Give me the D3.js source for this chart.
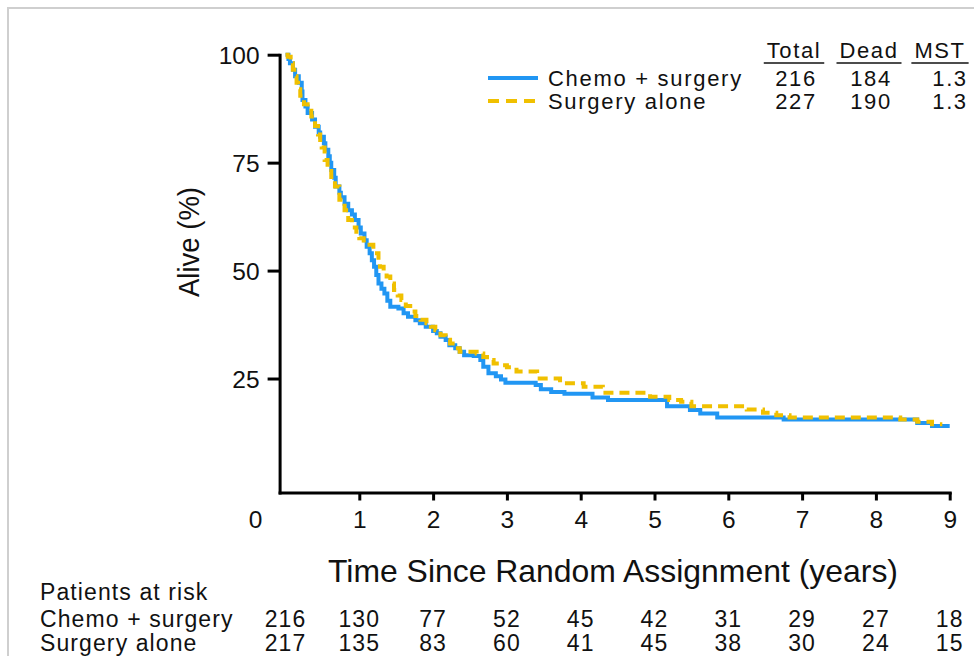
<!DOCTYPE html>
<html>
<head>
<meta charset="utf-8">
<script src="https://cdn.jsdelivr.net/npm/d3@7"></script>
<style>
  html, body { margin: 0; padding: 0; background: #fff; }
  svg { display: block; }
  text { font-family: "Liberation Sans", Arial, Helvetica, sans-serif; fill: #111; }
</style>
</head>
<body>
<svg id="chart" width="974" height="656"></svg>
<script>
// Kaplan–Meier survival steps: [years, % alive]
const chemoCurve = [
  [0,100],[0.04,99],[0.06,98],[0.1,96.5],[0.13,95],[0.18,93.5],[0.22,91.5],[0.23,89.5],
  [0.27,88],[0.3,86.5],[0.36,85],[0.4,83.3],[0.45,82],[0.47,81],[0.52,79.5],[0.54,78],
  [0.58,76.5],[0.6,75],[0.62,73.3],[0.66,71.5],[0.68,69.5],[0.73,68],[0.75,67],[0.8,65.5],
  [0.85,64],[0.9,63],[0.94,61.7],[0.99,60],[1.02,58.6],[1.07,57],[1.1,55.5],[1.14,54],
  [1.17,52.4],[1.2,50.9],[1.23,49],[1.26,47],[1.3,45.8],[1.34,44.7],[1.38,43],[1.42,41.6],
  [1.53,41.2],[1.6,40.1],[1.66,39.3],[1.76,38.5],[1.82,37.8],[1.9,37],[2.0,36],[2.05,35.5],
  [2.1,34.7],[2.17,33.9],[2.22,32.7],[2.3,32],[2.36,31.2],[2.42,30.4],[2.55,30.2],[2.64,29.3],
  [2.68,27.7],[2.75,26.2],[2.85,25.5],[2.92,24.8],[2.98,24.0],[3.39,23.5],[3.46,22.5],[3.6,21.9],
  [3.78,21.5],[4.16,20.6],[4.37,20.0],[5.17,18.6],[5.48,17.7],[5.62,16.9],[5.85,16.0],[6.75,15.5],
  [8.56,14.7],[8.76,14.0],[9.0,14.0]
];
const surgeryCurve = [
  [0,100],[0.03,99.5],[0.07,98],[0.1,96.5],[0.12,95],[0.15,93.5],[0.17,92],[0.2,90.5],
  [0.25,88.5],[0.3,87],[0.35,85.7],[0.4,83.5],[0.44,81.5],[0.47,79.5],[0.49,78.5],[0.53,75.6],
  [0.57,74],[0.62,71.7],[0.67,69.5],[0.73,66.4],[0.8,64],[0.85,61.7],[0.9,60],[0.96,58.5],
  [1.0,57.5],[1.06,56],[1.19,55.5],[1.24,54],[1.26,52.5],[1.28,50.9],[1.33,49.5],[1.37,48.6],
  [1.42,47],[1.47,45.5],[1.52,44.2],[1.57,43.2],[1.63,41.8],[1.69,40.5],[1.76,39.5],[1.83,38.6],
  [1.91,37.8],[1.97,37],[2.03,36.2],[2.1,35],[2.17,34],[2.23,33.1],[2.3,32],[2.36,31.2],
  [2.59,30.8],[2.68,30],[2.73,29.3],[2.82,28.5],[2.92,28.1],[3.0,27.6],[3.13,26.6],[3.41,25.0],
  [3.72,23.9],[4.04,23.1],[4.3,21.7],[4.94,20.8],[5.2,20.0],[5.36,19.6],[5.5,18.6],[6.25,17.8],
  [6.47,17.1],[6.65,16.5],[6.83,16.0],[8.33,15.5],[8.56,15.0],[8.76,14.4],[8.9,14.4]
];

// Axis ticks
const xTicks = [1, 2, 3, 4, 5, 6, 7, 8, 9];
const yTicks = [25, 50, 75, 100];

// Legend table
const groups = ["Chemo + surgery", "Surgery alone"];
const totals = [216, 227];
const deaths = [184, 190];
const mst = ["1.3", "1.3"];
const legendHeads = ["Total", "Dead", "MST"];

// Numbers at risk, one value per year 0–9
const riskYears = [0, 1, 2, 3, 4, 5, 6, 7, 8, 9];
const riskChemo = [216, 130, 77, 52, 45, 42, 31, 29, 27, 18];
const riskSurgery = [217, 135, 83, 60, 41, 45, 38, 30, 24, 15];

const BLUE = "#2196f3";
const GOLD = "#f0c000";

const svg = d3.select("#chart");

// light frame around the figure
svg.append("rect")
  .attr("x", 8).attr("y", 8).attr("width", 1000).attr("height", 700)
  .attr("fill", "#fff").attr("stroke", "#cfcfcf").attr("stroke-width", 2);

const x = d3.scaleLinear().domain([-0.08, 9]).range([279.6, 949.7]);
const y = d3.scaleLinear().domain([-1.4, 100]).range([492.5, 54.7]);

// axes
const xAxis = svg.append("g")
  .attr("transform", `translate(0,${y(-1.4)})`)
  .call(d3.axisBottom(x).tickValues(xTicks).tickSizeInner(8).tickSizeOuter(0).tickPadding(10).tickFormat(d3.format("d")));
const yAxis = svg.append("g")
  .attr("transform", `translate(${x(-0.08)},0)`)
  .call(d3.axisLeft(y).tickValues(yTicks).tickSizeInner(12).tickSizeOuter(0).tickPadding(8).tickFormat(d3.format("d")));

[xAxis, yAxis].forEach(g => {
  g.attr("font-family", null).attr("font-size", null);
  g.selectAll("path.domain").attr("stroke", "#000").attr("stroke-width", 3).attr("stroke-linecap", "square");
  g.selectAll(".tick line").attr("stroke", "#000").attr("stroke-width", 3);
  g.selectAll(".tick text").attr("font-size", 24.5).attr("fill", "#111");
});
yAxis.selectAll(".tick text").attr("dy", "0.36em");

// origin label sits below-left of the corner
svg.append("text")
  .attr("x", x(0) - 30).attr("y", y(-1.4) + 18 + 24.5 * 0.71)
  .attr("text-anchor", "middle").attr("font-size", 24.5)
  .text("0");

// axis titles
svg.append("text")
  .attr("transform", "translate(199,242) rotate(-90)")
  .attr("text-anchor", "middle").attr("font-size", 29)
  .attr("textLength", 110).attr("lengthAdjust", "spacingAndGlyphs")
  .text("Alive (%)");
svg.append("text")
  .attr("x", 613).attr("y", 582)
  .attr("text-anchor", "middle").attr("font-size", 32)
  .attr("textLength", 570).attr("lengthAdjust", "spacingAndGlyphs")
  .text("Time Since Random Assignment (years)");

// survival curves
const line = d3.line()
  .x(d => x(d[0])).y(d => y(d[1]))
  .curve(d3.curveStepAfter);

svg.append("path").datum(chemoCurve)
  .attr("d", line).attr("fill", "none")
  .attr("stroke", BLUE).attr("stroke-width", 4);
svg.append("path").datum(surgeryCurve)
  .attr("d", line).attr("fill", "none")
  .attr("stroke", GOLD).attr("stroke-width", 4).attr("stroke-dasharray", "10,6");

// legend
const legend = svg.append("g");
const colX = [794, 869, 940];
const rowY = [86, 109];
legendHeads.forEach((h, i) => {
  const t = legend.append("text")
    .attr("x", colX[i]).attr("y", 58).attr("text-anchor", "middle")
    .attr("font-size", 22).attr("letter-spacing", 1.6).text(h);
  const bb = t.node().getBBox();
  legend.append("line")
    .attr("x1", bb.x - 3).attr("x2", bb.x + bb.width + 3)
    .attr("y1", 63).attr("y2", 63)
    .attr("stroke", "#111").attr("stroke-width", 1.6);
});
groups.forEach((g, i) => {
  legend.append("line")
    .attr("x1", 488).attr("x2", 538).attr("y1", rowY[i] - 8).attr("y2", rowY[i] - 8)
    .attr("stroke", i === 0 ? BLUE : GOLD).attr("stroke-width", 4)
    .attr("stroke-dasharray", i === 0 ? null : "11,7");
  legend.append("text")
    .attr("x", 548).attr("y", rowY[i]).attr("font-size", 22).attr("letter-spacing", 1.7)
    .text(g);
  [totals[i], deaths[i], mst[i]].forEach((v, j) => {
    legend.append("text")
      .attr("x", colX[j] + (j === 2 ? 10 : 2)).attr("y", rowY[i]).attr("text-anchor", "middle")
      .attr("font-size", 22).attr("letter-spacing", 1.6).text(v);
  });
});

// patients-at-risk table
const risk = svg.append("g").attr("font-size", 23).attr("letter-spacing", 1.1);
risk.append("text").attr("x", 40).attr("y", 600).text("Patients at risk");
[[groups[0], riskChemo, 627], [groups[1], riskSurgery, 651]].forEach(([name, vals, yy]) => {
  risk.append("text").attr("x", 40).attr("y", yy).text(name);
  risk.selectAll(null).data(vals).enter().append("text")
    .attr("x", (d, i) => x(riskYears[i])).attr("y", yy)
    .attr("text-anchor", "middle").text(d => d);
});
</script>
</body>
</html>
